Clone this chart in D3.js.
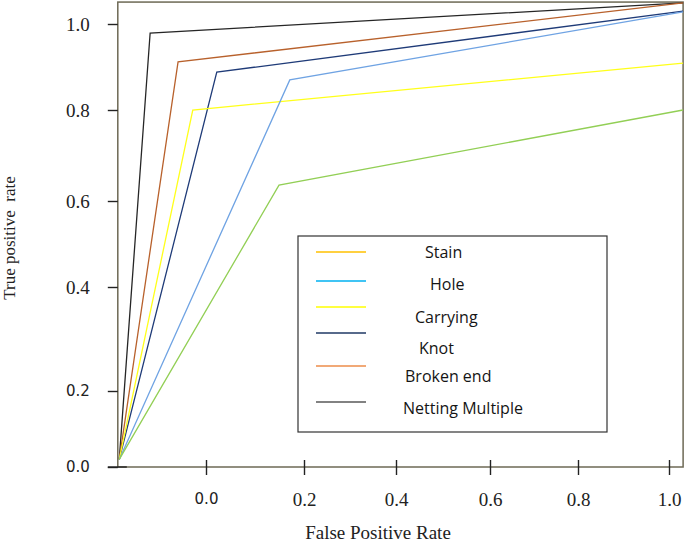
<!DOCTYPE html>
<html><head><meta charset="utf-8">
<script src="https://cdn.jsdelivr.net/npm/d3@7"></script>
<style>html,body{margin:0;padding:0;background:#fff;}svg{display:block;}</style>
</head><body>
<svg id="chart" width="685" height="544"></svg>
<script>
// ---- data ----
const tickValues = [0.0, 0.2, 0.4, 0.6, 0.8, 1.0];
const tickLabels = ["0.0", "0.2", "0.4", "0.6", "0.8", "1.0"];
const lineNames = ["Netting Multiple", "Broken end", "Knot", "Carrying", "Hole", "Stain"];
const lineColors = ["#262626", "#b8612c", "#1f3b78", "#ffff1a", "#6fa3e3", "#92cf55"];
const startFpr = [-0.177, -0.177, -0.177, -0.177, -0.177, -0.177];
const startTpr = [0.02, 0.02, 0.02, 0.02, 0.02, 0.02];
const elbowFpr = [-0.114, -0.057, 0.022, -0.027, 0.171, 0.149];
const elbowTpr = [0.979, 0.912, 0.888, 0.800, 0.870, 0.635];
const endFpr = [1.031, 1.031, 1.031, 1.031, 1.031, 1.031];
const endTpr = [1.049, 1.049, 1.030, 0.909, 1.028, 0.800];
const legendNames = ["Stain", "Hole", "Carrying", "Knot", "Broken end", "Netting Multiple"];
const legendColors = ["#ffc000", "#00b0f0", "#ffff00", "#1f3864", "#ed8c4a", "#595959"];
const xDomainMin = -0.18, xDomainMax = 1.031, yDomainMax = 1.051;

(function () {
// ---- scales ----
const svg = d3.select("#chart");
const x = d3.scaleLinear().domain(tickValues).range([206, 304, 396, 490, 578, 669]);
const y = d3.scaleLinear().domain(tickValues).range([467, 391, 287, 201, 110, 24]);

const frameCol = "#6d6955";
const pLeft = x(xDomainMin), pRight = x(xDomainMax), pTop = y(yDomainMax), pBottom = y(0);

// frame
svg.append("rect").attr("x", pLeft).attr("y", pTop).attr("width", pRight - pLeft).attr("height", pBottom - pTop)
  .attr("fill", "none").attr("stroke", frameCol).attr("stroke-width", 1.5);

// lines
const line = d3.line().x(d => x(d[0])).y(d => y(d[1]));
lineNames.forEach((n, i) => {
  const pts = [[startFpr[i], startTpr[i]], [elbowFpr[i], elbowTpr[i]], [endFpr[i], endTpr[i]]];
  svg.append("path").datum(pts).attr("d", line).attr("fill", "none")
    .attr("stroke", lineColors[i]).attr("stroke-width", 1.3);
});

const serif = "'Liberation Serif', 'Times New Roman', serif";
const sans = "'DejaVu Sans', Verdana, sans-serif";

// y axis ticks
const yAxis = d3.axisLeft(y).tickValues(tickValues).tickFormat((d, i) => tickLabels[i]).tickSize(10).tickPadding(18);
const gy = svg.append("g").attr("transform", `translate(${pLeft},0)`).call(yAxis);
gy.select(".domain").remove();
gy.selectAll(".tick line").attr("stroke", "#222").attr("stroke-width", 1.4);
gy.selectAll(".tick text").style("font-family", serif).style("font-size", "19px").attr("fill", "#222");
gy.selectAll(".tick text").filter((d) => d === 0 || d === 0.2)
  .style("font-family", sans).style("font-size", "15px");

// x axis ticks (crossing)
const xAxis = d3.axisBottom(x).tickValues(tickValues).tickFormat((d, i) => tickLabels[i]).tickSize(8).tickPadding(18);
const gx = svg.append("g").attr("transform", `translate(0,${pBottom})`).call(xAxis);
gx.select(".domain").remove();
gx.selectAll(".tick line").attr("y1", -7).attr("y2", 8).attr("stroke", "#222").attr("stroke-width", 1.4);
gx.selectAll(".tick text").style("font-family", serif).style("font-size", "19px").attr("fill", "#222");
gx.selectAll(".tick text").filter((d) => d === 0)
  .style("font-family", sans).style("font-size", "15px");
// short tick at origin
svg.append("line").attr("x1", pLeft - 10).attr("x2", pLeft + 9).attr("y1", pBottom).attr("y2", pBottom)
  .attr("stroke", "#222").attr("stroke-width", 1.4);

// axis titles
svg.append("text").attr("x", 378).attr("y", 539).attr("text-anchor", "middle")
  .style("font-family", serif).style("font-size", "19px").attr("fill", "#222")
  .text("False Positive Rate");
svg.append("text").attr("transform", "translate(15,238) rotate(-90)").attr("text-anchor", "middle")
  .style("font-family", serif).style("font-size", "17px").attr("fill", "#222")
  .style("white-space", "pre").text("True positive  rate");

// legend
const lg = svg.append("g");
lg.append("rect").attr("x", 298).attr("y", 236).attr("width", 309).attr("height", 196)
  .attr("fill", "#fff").attr("stroke", "#333").attr("stroke-width", 1.2);
const legLineY = [252, 281, 307, 333, 366, 402];
const legTextX = [425, 430, 415, 419, 405, 403];
const legTextY = [252, 284, 317, 348, 376, 408];
legendNames.forEach((n, i) => {
  lg.append("line").attr("x1", 316).attr("x2", 366).attr("y1", legLineY[i]).attr("y2", legLineY[i])
    .attr("stroke", legendColors[i]).attr("stroke-width", 1.5);
  lg.append("text").attr("x", legTextX[i]).attr("y", legTextY[i]).attr("dy", "0.35em")
    .style("font-family", "'Open Sans', 'Liberation Sans', sans-serif").style("font-size", "16px")
    .attr("fill", "#151515").text(n);
});
})();
</script>
</body></html>
